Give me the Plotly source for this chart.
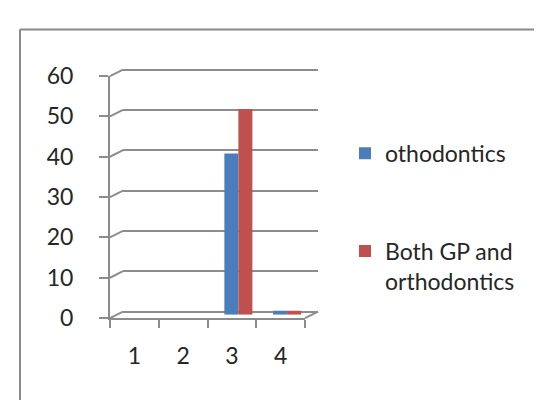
import plotly.graph_objects as go

categories = ["1", "2", "3", "4"]
othodontics = [0, 0, 40, 1]
both_gp_ortho = [0, 0, 51, 1]
y_ticks = [0, 10, 20, 30, 40, 50, 60]

W, H = 542, 405
GRAY = "#8c8c8c"
TXT = "#262626"
FONT = "Lato"
FS = 23


def px(x):
    return x / W


def py(y):
    return 1 - y / H


# pixel geometry of the pseudo-3D planes
front = dict(x0=102, x1=297, y0=317, y60=57)
back = dict(x0=115, x1=310, y0=310, y60=50)
mid = dict(x0=108.5, x1=303.5, y0=313.5, y60=53.5)


def yval(plane, v):
    return py(plane["y0"] + (plane["y60"] - plane["y0"]) * v / 60)


fig = go.Figure()

fig.add_trace(go.Bar(
    x=categories, y=othodontics, name="othodontics",
    xaxis="x3", yaxis="y3",
    marker=dict(color="#4A7EBB", line=dict(width=0)),
    legend="legend",
))
fig.add_trace(go.Bar(
    x=categories, y=both_gp_ortho, name="Both GP and<br>orthodontics",
    xaxis="x3", yaxis="y3",
    marker=dict(color="#C0504D", line=dict(width=0)),
    legend="legend2",
))
# invisible traces to build the front and back axes
fig.add_trace(go.Bar(x=categories, y=[0, 0, 0, 0], xaxis="x", yaxis="y",
                     showlegend=False, hoverinfo="skip",
                     marker=dict(color="rgba(0,0,0,0)", line=dict(width=0))))
fig.add_trace(go.Bar(x=categories, y=[0, 0, 0, 0], xaxis="x2", yaxis="y2",
                     showlegend=False, hoverinfo="skip",
                     marker=dict(color="rgba(0,0,0,0)", line=dict(width=0))))

cat_range = [-0.5, 3.5]
y_top_back = 64

shapes = []
for v in y_ticks:
    shapes.append(dict(type="line", xref="paper", yref="paper",
                       x0=px(front["x0"]), y0=yval(front, v),
                       x1=px(back["x0"]), y1=yval(back, v),
                       line=dict(color=GRAY, width=2)))
shapes.append(dict(type="line", xref="paper", yref="paper",
                   x0=px(front["x1"]), y0=yval(front, 0),
                   x1=px(back["x1"]), y1=yval(back, 0),
                   line=dict(color=GRAY, width=2)))
# outer frame (top and left)
shapes.append(dict(type="line", xref="paper", yref="paper",
                   x0=px(12), y0=py(7), x1=1, y1=py(7),
                   line=dict(color="#8a8a8a", width=2)))
shapes.append(dict(type="line", xref="paper", yref="paper",
                   x0=px(12), y0=py(7), x1=px(12), y1=0,
                   line=dict(color="#8a8a8a", width=2)))

fig.update_layout(
    width=W, height=H,
    margin=dict(l=0, r=0, t=0, b=0),
    paper_bgcolor="white", plot_bgcolor="rgba(0,0,0,0)",
    font=dict(family=FONT, size=FS, color=TXT),
    barmode="group", bargap=0.425, bargroupgap=0,
    shapes=shapes,
    # front axes
    xaxis=dict(domain=[px(front["x0"]), px(front["x1"])], range=cat_range,
               type="category", showgrid=False, showline=True, linecolor=GRAY, linewidth=2,
               ticks="outside", ticklen=8, tickwidth=2, tickcolor=GRAY,
               tickson="boundaries", ticklabelstandoff=16,
               tickfont=dict(family=FONT, size=FS, color=TXT), zeroline=False),
    yaxis=dict(domain=[yval(front, 0), yval(front, 60)], range=[0, 60],
               tickvals=y_ticks, showgrid=False, showline=True, linecolor=GRAY, linewidth=2,
               ticks="outside", ticklen=9, tickwidth=2, tickcolor=GRAY,
               ticklabelstandoff=21, zeroline=False,
               tickfont=dict(family=FONT, size=FS, color=TXT)),
    # back wall (gridlines)
    xaxis2=dict(domain=[px(back["x0"]), px(back["x1"])], range=cat_range,
                type="category", visible=False, anchor="y2"),
    yaxis2=dict(domain=[yval(back, 0), yval(back, y_top_back)], range=[0, y_top_back],
                tickvals=y_ticks, showgrid=True, gridcolor=GRAY, gridwidth=2,
                zeroline=True, zerolinecolor=GRAY, zerolinewidth=2,
                showticklabels=False, ticks="", showline=False, anchor="x2"),
    # bars (mid depth)
    xaxis3=dict(domain=[px(mid["x0"]), px(mid["x1"])], range=cat_range,
                type="category", visible=False, anchor="y3"),
    yaxis3=dict(domain=[yval(mid, 0), yval(mid, 60)], range=[0, 60],
                visible=False, anchor="x3"),
    legend=dict(x=px(337), y=py(140), xanchor="left", yanchor="middle",
                font=dict(family=FONT, size=FS, color=TXT), bgcolor="rgba(0,0,0,0)"),
    legend2=dict(x=px(337), y=py(261), xanchor="left", yanchor="middle", valign="top",
                 font=dict(family=FONT, size=FS, color=TXT), bgcolor="rgba(0,0,0,0)"),
)

fig.write_html("out.html")
